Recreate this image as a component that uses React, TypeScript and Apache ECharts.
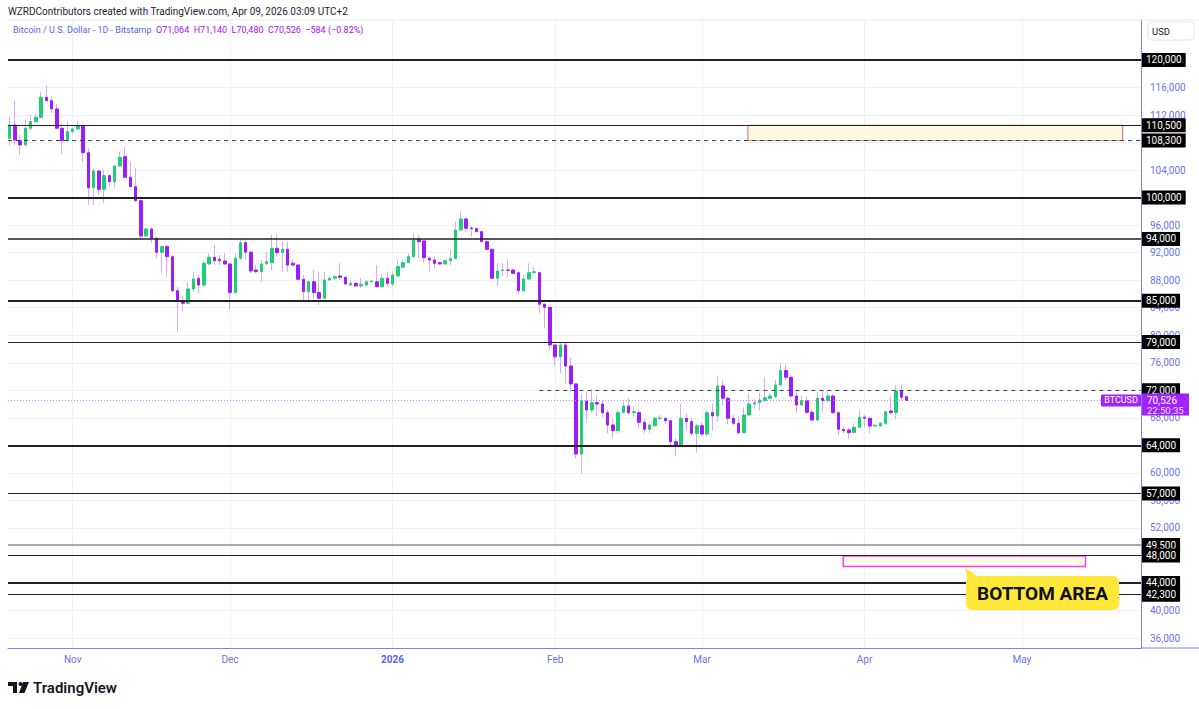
import React, { useEffect, useRef } from "react";
import * as echarts from "echarts";

// ---------- DATA ----------
const firstDay = "2025-10-20";

const opens = [
  108620, 110550, 108270, 107650, 110080, 111040, 111680, 114580, 114090, 112880, 110080, 108270,
  109580, 109970, 110450, 106530, 101440, 103870, 101210, 103190, 102310, 104600, 105950, 102960, 101590, 99550, 94420, 95440, 94090, 92060, 92880, 91420, 86470, 85020, 84640, 86720, 88270, 87300, 90360, 91330, 91040, 90790,
  90360, 86190, 91180, 93450, 92060, 89480, 89240, 90360, 90550, 92640, 92000, 92490, 90460, 90210, 88130, 86330, 87780, 86190, 85370, 88030, 88280, 88610, 88420, 87300, 87550, 87160, 87300, 87780, 87780, 87060, 88280,
  87450, 88610, 89880, 90550, 91420, 93940, 93700, 91180, 90940, 90550, 90360, 90840, 91130, 95300, 96900, 95590, 95490, 95050, 93600, 92490, 88280, 89380, 89480, 89480, 89090, 86470, 88180, 89090, 89090, 84500, 84060,
  78580, 76880, 78580, 75530, 72920, 62740, 70440, 69140, 70200, 70010, 68750, 66960, 66130, 68750, 69720, 68750, 68750, 67350, 66330, 66860, 67930, 67930, 67580, 64530, 64050, 67930, 67440, 65750,
  66860, 65650, 68750, 68270, 72630, 70840, 67930, 67200, 65840, 68410, 70010, 70200, 70490, 70840, 71070, 72770, 74860, 73890, 71170, 69860, 70490, 68800, 67680, 70840, 70490, 71170, 68750, 66330, 66230, 65840, 66620,
  68080, 67930, 66810, 66810, 67200, 68990, 68750, 71900, 71064,
];
const highs = [
  111760, 114090, 109100, 111280, 112010, 112110, 115400, 116370, 114770, 113610, 110800, 111040,
  110160, 111140, 110660, 107170, 104260, 104020, 104020, 103430, 104740, 106680, 107400, 105220, 104260, 99660, 95540, 95780, 94300, 93120, 93120, 91660, 87060, 85700, 87780, 89240, 88760, 90690, 91910, 93120, 91660, 91910,
  90460, 91910, 94090, 94090, 92390, 90210, 90940, 92140, 94570, 94570, 93600, 93600, 90940, 90360, 88760, 88030, 89480, 89240, 89240, 88610, 88760, 90460, 88510, 87880, 87740, 88320, 88030, 88080, 90210, 89000, 89240,
  89240, 90940, 90940, 91910, 94820, 94570, 93840, 91520, 91420, 90690, 91040, 92390, 96500, 97870, 97140, 95880, 95540, 95200, 93740, 92640, 90460, 90460, 91040, 89730, 89240, 88760, 90460, 89960, 89240, 84640, 84160,
  78830, 78930, 78930, 76800, 73020, 71560, 71800, 72150, 71320, 70490, 69140, 67930, 69140, 70340, 70840, 69620, 69140, 67930, 67200, 68160, 68410, 68080, 67680, 65020, 70010, 68660, 67930, 67100,
  67290, 69140, 70010, 73980, 73400, 71070, 68410, 68270, 69530, 71560, 70690, 71650, 73890, 71560, 73500, 75920, 75920, 74220, 71940, 71170, 71070, 69140, 71800, 71940, 71940, 71460, 68890, 66620, 66480, 67200, 69140,
  68410, 68160, 67100, 67440, 69030, 71070, 72770, 72920, 71140,
];
const lows = [
  107550, 107650, 106190, 107550, 109830, 110890, 111530, 113940, 112260, 109930, 106340, 108130,
  109350, 109830, 105220, 98930, 98930, 100380, 99180, 101500, 101440, 104410, 102810, 101440, 99410, 93840, 94320, 93360, 91180, 89090, 88510, 86300, 80470, 83520, 84540, 86330, 86100, 87060, 90210, 90210, 90210, 90210,
  83780, 86100, 90940, 90940, 89000, 89090, 87790, 90250, 89480, 91420, 89240, 89240, 89960, 88030, 85120, 85120, 85220, 84400, 85220, 87930, 88030, 88030, 87300, 87160, 87010, 86870, 87200, 87670, 86970, 86970, 87060,
  87060, 88510, 89730, 90460, 91330, 91180, 90550, 89240, 89730, 90210, 90210, 90210, 91040, 95200, 95050, 94320, 94960, 93510, 92290, 88180, 87160, 88510, 88510, 88900, 85990, 86330, 88030, 89000, 83190, 81010, 77860,
  75530, 74470, 73020, 71650, 62120, 59940, 67290, 68750, 68270, 68080, 65750, 65020, 65750, 68660, 68410, 68160, 66480, 65750, 65750, 66620, 67580, 67100, 64050, 62450, 63950, 66230, 65360, 62930,
  65360, 65260, 66130, 67440, 69720, 67100, 66960, 65500, 65750, 68270, 69240, 69030, 70300, 70690, 70840, 72630, 73500, 70840, 68750, 69720, 68560, 67440, 67580, 68750, 70340, 68560, 65500, 65750, 64880, 65750, 66480,
  66620, 65750, 66620, 66710, 66960, 68410, 67780, 70590, 70480,
];
const closes = [
  110550, 108370, 107650, 110080, 111040, 111680, 114580, 114090, 112880, 110080, 108270, 109580,
  109970, 110450, 106530, 101440, 103870, 101210, 103190, 102310, 104600, 105860, 102960, 101590, 99550, 94420, 95440, 94090, 92060, 92880, 91420, 86470, 85020, 84640, 86720, 88180, 87300, 90460, 91330, 90830, 90830, 90360,
  86190, 91180, 93450, 92060, 89340, 89240, 90360, 90690, 92640, 92000, 92490, 90210, 90210, 88130, 86330, 87780, 86190, 85370, 88030, 88280, 88510, 88420, 87450, 87550, 87160, 87400, 87780, 87880, 87060, 88280, 87550,
  88760, 89970, 90550, 91420, 93840, 93590, 91270, 90940, 90460, 90360, 90840, 91130, 95300, 96900, 95540, 95490, 95050, 93600, 92490, 88280, 89340, 89480, 89440, 89000, 86470, 88180, 89090, 89240, 84500, 84060, 78580,
  76880, 78580, 75530, 72920, 62740, 70490, 69140, 70200, 70010, 68750, 66960, 66130, 68750, 69720, 68750, 68890, 67350, 66330, 66960, 67930, 67970, 67580, 64530, 64050, 67930, 67440, 65750, 66860,
  65650, 68750, 68270, 72630, 70840, 67930, 67200, 65840, 68410, 70010, 70200, 70590, 70920, 71170, 72770, 74860, 73890, 71170, 69860, 70490, 68800, 67680, 70840, 70490, 71170, 68750, 66330, 66130, 65840, 66620, 68080,
  67930, 66810, 66910, 67200, 68890, 68750, 71900, 70980, 70526,
];

const levels = [120000, 110500, 100000, 94000, 85000, 79000, 64000, 57000, 49500, 48000, 44000, 42300];
const heavyLevels = [120000, 100000, 85000, 64000, 44000];
const mediumLevels = [94000];
const greyLevels = [49500];
const dashedLevels = [108300];
const rangeTop = 72000;
const rangeTopFrom = "2026-01-29T00:00:00Z";
const lastPrice = 70526;
const lastTime = "22:50:35";

// grid lines every 4,000; only the labels not covered by a level tag are printed
const priceGrid = [36000, 40000, 44000, 48000, 52000, 56000, 60000, 64000, 68000, 72000, 76000, 80000, 84000, 88000, 92000, 96000, 100000, 104000, 108000, 112000, 116000, 120000];
const priceLabels = [36000, 40000, 52000, 56000, 60000, 68000, 76000, 80000, 84000, 88000, 92000, 96000, 104000, 112000, 116000];
const monthTicks = ["2025-11-01", "2025-12-01", "2026-01-01", "2026-02-01", "2026-03-01", "2026-04-01", "2026-05-01"];
const monthNames = ["Jan", "Feb", "Mar", "Apr", "May", "Jun", "Jul", "Aug", "Sep", "Oct", "Nov", "Dec"];

const resistanceZone = { from: "2026-03-09T18:00:00Z", to: "2026-05-20T05:00:00Z", low: 108300, high: 110500 };
const bottomZone = { from: "2026-03-27T22:00:00Z", to: "2026-05-13T03:00:00Z", low: 46400, high: 47900 };

const xStart = "2025-10-19T16:00:00Z";
const xEnd = "2026-05-23T17:00:00Z";
const yMin = 34547;
const yMax = 125813;

const headerLine = "WZRDContributors created with TradingView.com, Apr 09, 2026 03:09 UTC+2";
const symbolTitle = "Bitcoin / U.S. Dollar - 1D - Bitstamp";
const ohlcText = "O71,064  H71,140  L70,480  C70,526  \u2212584 (\u22120.82%)";

// ---------- STYLE ----------
const FONT = "Roboto, 'Noto Sans', sans-serif";
const UP = "#1fce78";
const DOWN = "#9b1cff";
const WICK = "#d9a9ff";
const AXIS_BLUE = "#6c72f4";
const GRID = "#eef1f7";
const PURPLE_TAG = "#9f22ff";

const DAY = 86400000;
const ts = (s: string) => Date.parse(s.length === 10 ? s + "T00:00:00Z" : s);
const fmt = (v: number) => v.toLocaleString("en-US");

export default function App() {
  const ref = useRef<HTMLDivElement>(null);

  useEffect(() => {
    const el = ref.current;
    if (!el) return;
    const chart = echarts.init(el, null, { renderer: "svg" });

    const t0 = ts(firstDay);
    const times = opens.map((_, i) => t0 + i * DAY);
    const wickData = opens.map((o, i) => [times[i], o, closes[i], lows[i], highs[i]]);
    const bodyData = opens.map((o, i) => [times[i], o, closes[i], Math.min(o, closes[i]), Math.max(o, closes[i])]);
    const monthValues = monthTicks.map(ts);

    const blackLabel = {
      show: true,
      position: "end",
      distance: 1,
      formatter: (p: any) => fmt(p.value),
      backgroundColor: "#000",
      color: "#fff",
      fontSize: 10,
      fontFamily: FONT,
      padding: [2, 4, 2, 4],
    };

    const levelLines = levels.map((v) => ({
      yAxis: v,
      lineStyle: {
        color: greyLevels.includes(v) ? "#8d8d8d" : "#222",
        width: heavyLevels.includes(v) ? 2 : mediumLevels.includes(v) ? 1.5 : greyLevels.includes(v) ? 1.5 : 1,
        type: "solid",
      },
      label: blackLabel,
    }));
    const dashedLines = dashedLevels.map((v) => ({
      yAxis: v,
      lineStyle: { color: "#444", width: 1, type: [4, 4] },
      label: blackLabel,
    }));
    const rangeLine = [
      { coord: [ts(rangeTopFrom), rangeTop], lineStyle: { color: "#444", width: 1, type: [4, 4] }, label: { ...blackLabel, formatter: () => fmt(rangeTop) } },
      { coord: [ts(xEnd), rangeTop] },
    ];
    const priceLine = {
      yAxis: lastPrice,
      lineStyle: { color: "#c783ff", width: 1, type: [1, 2] },
      label: { show: false },
    };

    const option: any = {
      animation: false,
      backgroundColor: "#fff",
      textStyle: { fontFamily: FONT },
      grid: { left: 8, right: 58, top: 20, bottom: 61, containLabel: false },
      xAxis: {
        type: "value",
        min: ts(xStart),
        max: ts(xEnd),
        scale: true,
        axisLine: { show: true, onZero: false, lineStyle: { color: "#7d82f3", width: 1 } },
        axisTick: { show: false, customValues: monthValues },
        splitLine: { show: true, lineStyle: { color: GRID, width: 1 } },
        axisLabel: {
          customValues: monthValues,
          color: AXIS_BLUE,
          fontSize: 10,
          margin: 6,
          fontFamily: FONT,
          formatter: (v: number) => {
            const d = new Date(v);
            return d.getUTCMonth() === 0 ? `{y|${d.getUTCFullYear()}}` : monthNames[d.getUTCMonth()];
          },
          rich: { y: { fontWeight: "bold", color: "#5a61ee", fontSize: 10, fontFamily: FONT } },
        },
      },
      yAxis: {
        type: "value",
        position: "right",
        min: yMin,
        max: yMax,
        scale: true,
        axisLine: { show: true, lineStyle: { color: "#7d82f3", width: 1 } },
        axisTick: { show: false, customValues: priceGrid },
        splitLine: { show: true, lineStyle: { color: GRID, width: 1 } },
        axisLabel: {
          customValues: priceLabels,
          color: AXIS_BLUE,
          fontSize: 10,
          margin: 9,
          fontFamily: FONT,
          formatter: (v: number) => fmt(v),
        },
      },
      series: [
        {
          name: "wicks",
          type: "candlestick",
          z: 3,
          barWidth: 1,
          encode: { x: 0, y: [1, 2, 3, 4] },
          data: wickData,
          itemStyle: { color: WICK, color0: WICK, borderColor: WICK, borderColor0: WICK, borderWidth: 1 },
          silent: true,
        },
        {
          name: "BTCUSD",
          type: "candlestick",
          z: 4,
          barWidth: 3,
          encode: { x: 0, y: [1, 2, 3, 4] },
          data: bodyData,
          itemStyle: { color: UP, color0: DOWN, borderColor: UP, borderColor0: DOWN, borderWidth: 1 },
          silent: true,
        },
        {
          name: "levels",
          type: "line",
          z: 5,
          data: [],
          silent: true,
          markLine: {
            silent: true,
            symbol: ["none", "none"],
            animation: false,
            data: [priceLine, ...levelLines, ...dashedLines, rangeLine],
          },
        },
        {
          name: "zones",
          type: "line",
          z: 6,
          data: [],
          silent: true,
          markArea: {
            silent: true,
            animation: false,
            data: [
              [
                { coord: [ts(resistanceZone.from), resistanceZone.high], itemStyle: { color: "#fdfbe4", borderColor: "#f07b7b", borderWidth: 1.2 } },
                { coord: [ts(resistanceZone.to), resistanceZone.low] },
              ],
              [
                { coord: [ts(bottomZone.from), bottomZone.high], itemStyle: { color: "#fefce6", borderColor: "#ff3cf5", borderWidth: 1.5 } },
                { coord: [ts(bottomZone.to), bottomZone.low] },
              ],
            ],
          },
        },
      ],
    };

    chart.setOption(option);

    const py = chart.convertToPixel({ yAxisIndex: 0 }, lastPrice) as number;
    const gridRight = 1199 - 58;

    chart.setOption({
      graphic: {
        elements: [
          { type: "line", shape: { x1: 8, y1: 20, x2: 1199, y2: 20 }, style: { stroke: "#e9ebf1", lineWidth: 1 }, z: 1 },
          { type: "line", shape: { x1: gridRight, y1: 648, x2: 1199, y2: 648 }, style: { stroke: "#7d82f3", lineWidth: 1 }, z: 1 },
          {
            type: "text",
            x: 8,
            y: 11,
            style: { text: headerLine, fontSize: 10, fill: "#1e222d", fontFamily: FONT, verticalAlign: "middle", align: "left" },
            z: 10,
          },
          {
            type: "text",
            x: 13,
            y: 30,
            style: {
              text: `{a|${symbolTitle}}  {b|${ohlcText}}`,
              fontSize: 9,
              fontFamily: FONT,
              verticalAlign: "middle",
              align: "left",
              rich: {
                a: { fill: "#5c5ff2", fontSize: 9, fontFamily: FONT },
                b: { fill: "#a812f0", fontSize: 9, fontFamily: FONT },
              },
            },
            z: 10,
          },
          { type: "rect", shape: { x: 1148, y: 22, width: 46, height: 18, r: 3 }, style: { fill: "#fff", stroke: "#e3e6ee", lineWidth: 1 }, z: 10 },
          { type: "text", x: 1152, y: 31, style: { text: "USD", fontSize: 9.5, fill: "#131722", fontFamily: FONT, verticalAlign: "middle", align: "left" }, z: 11 },
          // chart-side symbol tag
          { type: "rect", shape: { x: gridRight - 40, y: py - 6, width: 40, height: 12, r: 1 }, style: { fill: PURPLE_TAG }, z: 10 },
          { type: "text", x: gridRight - 20, y: py, style: { text: "BTCUSD", fontSize: 9, fill: "#fff", fontFamily: FONT, verticalAlign: "middle", align: "center" }, z: 11 },
          // axis price tag with countdown
          { type: "rect", shape: { x: gridRight + 1, y: py - 7, width: 47, height: 22 }, style: { fill: PURPLE_TAG }, z: 10 },
          { type: "text", x: gridRight + 6, y: py, style: { text: fmt(lastPrice), fontSize: 10, fill: "#fff", fontFamily: FONT, verticalAlign: "middle", align: "left" }, z: 11 },
          { type: "text", x: gridRight + 6, y: py + 10, style: { text: lastTime, fontSize: 9.5, fill: "#f1ddff", fontFamily: FONT, verticalAlign: "middle", align: "left" }, z: 11 },
          // callout
          { type: "polygon", shape: { points: [[965, 568], [967, 578], [980, 578]] }, style: { fill: "#ffe83a" }, z: 10 },
          { type: "rect", shape: { x: 966, y: 576, width: 153, height: 34, r: 6 }, style: { fill: "#ffe83a" }, z: 10 },
          {
            type: "text",
            x: 1042.5,
            y: 593,
            style: { text: "BOTTOM AREA", fontSize: 19, fontWeight: "bold", fill: "#111", fontFamily: FONT, verticalAlign: "middle", align: "center" },
            z: 11,
          },
          // logo
          { type: "rect", shape: { x: 8, y: 682, width: 9, height: 4 }, style: { fill: "#131722" }, z: 10 },
          { type: "rect", shape: { x: 13, y: 682, width: 4, height: 11 }, style: { fill: "#131722" }, z: 10 },
          { type: "circle", shape: { cx: 20.5, cy: 684, r: 2 }, style: { fill: "#131722" }, z: 10 },
          { type: "polygon", shape: { points: [[23, 682], [29, 682], [24.5, 693], [19, 693]] }, style: { fill: "#131722" }, z: 10 },
          {
            type: "text",
            x: 33,
            y: 688,
            style: { text: "TradingView", fontSize: 15, fontWeight: 600, fill: "#131722", fontFamily: FONT, verticalAlign: "middle", align: "left" },
            z: 10,
          },
        ],
      },
    });

    return () => chart.dispose();
  }, []);

  return (
    <div
      ref={ref}
      style={{ position: "fixed", left: 0, top: 0, width: 1199, height: 709, background: "#fff" }}
    />
  );
}
